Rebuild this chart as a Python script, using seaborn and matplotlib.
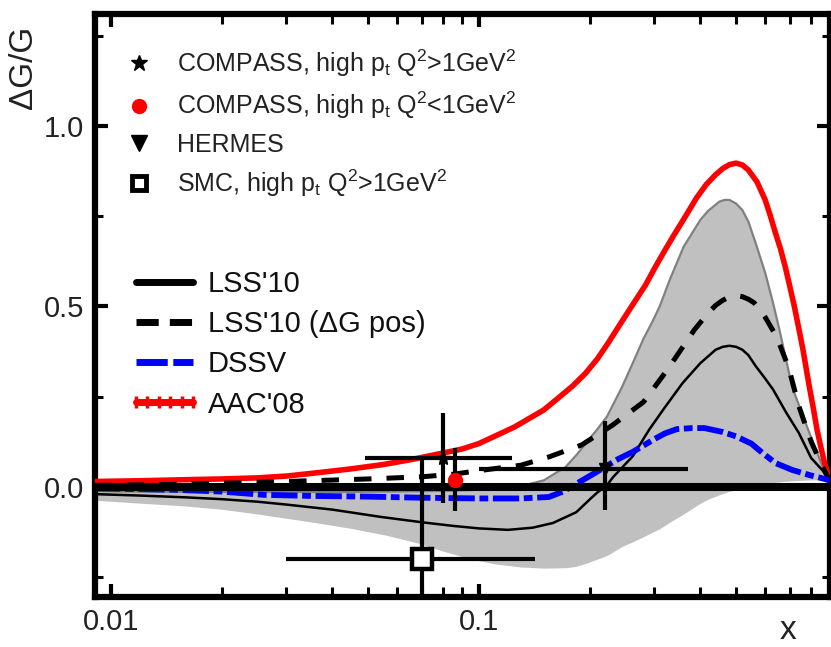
import matplotlib
matplotlib.use("Agg")
import numpy as np
import pandas as pd
import seaborn as sns
import matplotlib.pyplot as plt
from matplotlib.lines import Line2D
from matplotlib.ticker import MultipleLocator, NullFormatter

sns.set_style("ticks")
plt.rcParams['font.family'] = ['Liberation Sans', 'DejaVu Sans']
plt.rcParams['mathtext.fontset'] = 'custom'
plt.rcParams['mathtext.rm'] = 'Liberation Sans'
plt.rcParams['mathtext.it'] = 'Liberation Sans:italic'

# ---- curves ----
lss_x = [0.009, 0.012, 0.016, 0.02, 0.025, 0.03, 0.04, 0.054, 0.07, 0.085, 0.1, 0.12,
         0.14, 0.159, 0.184, 0.2, 0.209, 0.223, 0.232, 0.262, 0.29, 0.32, 0.358, 0.4,
         0.44, 0.46, 0.48, 0.5, 0.52, 0.54, 0.565, 0.6, 0.63, 0.685, 0.74, 0.8, 0.86, 0.9]
lss_y = [-0.020, -0.024, -0.029, -0.034, -0.041, -0.049, -0.063, -0.083, -0.098, -0.108,
         -0.115, -0.119, -0.113, -0.100, -0.070, -0.035, -0.017, 0.005, 0.028, 0.085,
         0.158, 0.220, 0.288, 0.343, 0.380, 0.388, 0.391, 0.388, 0.380, 0.365, 0.335,
         0.300, 0.270, 0.205, 0.150, 0.080, 0.045, 0.020]

lsspos_x = [0.009, 0.015, 0.02, 0.03, 0.05, 0.07, 0.085, 0.1, 0.13, 0.155, 0.19, 0.23,
            0.28, 0.325, 0.385, 0.42, 0.44, 0.46, 0.48, 0.5, 0.52, 0.54, 0.56, 0.58,
            0.6, 0.645, 0.695, 0.74, 0.8, 0.86, 0.9]
lsspos_y = [0.004, 0.007, 0.010, 0.015, 0.022, 0.028, 0.035, 0.045, 0.060, 0.083, 0.116,
            0.170, 0.235, 0.324, 0.435, 0.482, 0.503, 0.517, 0.526, 0.530, 0.527, 0.520,
            0.510, 0.492, 0.470, 0.415, 0.330, 0.225, 0.125, 0.055, 0.015]

dssv_x = [0.009, 0.015, 0.02, 0.026, 0.035, 0.05, 0.07, 0.1, 0.13, 0.155, 0.17, 0.185,
          0.2, 0.22, 0.24, 0.262, 0.297, 0.32, 0.345, 0.38, 0.41, 0.46, 0.5, 0.55, 0.59,
          0.64, 0.71, 0.79, 0.87, 0.9]
dssv_y = [-0.004, -0.008, -0.013, -0.022, -0.025, -0.027, -0.030, -0.032, -0.032, -0.028,
          -0.012, 0.010, 0.030, 0.055, 0.078, 0.097, 0.130, 0.148, 0.160, 0.163, 0.163,
          0.152, 0.140, 0.120, 0.094, 0.066, 0.047, 0.033, 0.022, 0.018]

aac_x = [0.009, 0.012, 0.016, 0.02, 0.025, 0.03, 0.037, 0.045, 0.055, 0.065, 0.075, 0.09,
         0.1, 0.125, 0.15, 0.166, 0.18, 0.195, 0.21, 0.225, 0.24, 0.26, 0.284, 0.3,
         0.32, 0.34, 0.367, 0.39, 0.415, 0.44, 0.46, 0.48, 0.5, 0.52, 0.54, 0.57, 0.6,
         0.62, 0.64, 0.66, 0.68, 0.7, 0.72, 0.74, 0.76, 0.79, 0.81, 0.83, 0.85, 0.87, 0.9]
aac_y = [0.015, 0.017, 0.020, 0.022, 0.025, 0.030, 0.040, 0.050, 0.062, 0.075, 0.088,
         0.105, 0.120, 0.166, 0.213, 0.250, 0.280, 0.315, 0.355, 0.400, 0.445, 0.500,
         0.560, 0.605, 0.655, 0.700, 0.755, 0.800, 0.838, 0.865, 0.882, 0.893, 0.897,
         0.892, 0.878, 0.845, 0.795, 0.750, 0.703, 0.660, 0.610, 0.555, 0.500, 0.440,
         0.380, 0.280, 0.220, 0.158, 0.110, 0.066, 0.020]

band_x = [0.009, 0.012, 0.016, 0.02, 0.025, 0.03, 0.036, 0.045, 0.056, 0.068, 0.08, 0.095,
          0.11, 0.13, 0.15, 0.172, 0.184, 0.195, 0.21, 0.223, 0.245, 0.262, 0.28, 0.297,
          0.31, 0.33, 0.36, 0.4, 0.42, 0.45, 0.465, 0.48, 0.5, 0.52, 0.54, 0.565, 0.6,
          0.63, 0.656, 0.71, 0.78, 0.86, 0.9]
band_hi = [-0.012, -0.013, -0.014, -0.014, -0.014, -0.014, -0.014, -0.014, -0.013, -0.012,
           -0.011, -0.009, -0.006, 0.002, 0.018, 0.055, 0.088, 0.120, 0.160, 0.195, 0.277,
           0.343, 0.410, 0.460, 0.500, 0.573, 0.665, 0.740, 0.765, 0.790, 0.795, 0.795,
           0.785, 0.767, 0.735, 0.676, 0.593, 0.510, 0.435, 0.277, 0.166, 0.055, 0.020]
band_lo = [-0.037, -0.045, -0.053, -0.062, -0.075, -0.087, -0.099, -0.115, -0.134, -0.155,
           -0.178, -0.200, -0.213, -0.222, -0.225, -0.224, -0.220, -0.212, -0.200, -0.190,
           -0.165, -0.152, -0.138, -0.125, -0.116, -0.098, -0.075, -0.045, -0.034, -0.022,
           -0.017, -0.012, -0.008, -0.004, 0.000, 0.004, 0.009, 0.012, 0.014, 0.017,
           0.019, 0.020, 0.020]

# ---- data points: x, y, x-errors (low, high), y-errors (low, high) ----
compass_hi = dict(x=0.08, y=0.08, xerr=(0.031, 0.043), yerr=(0.125, 0.125))
compass_lo = dict(x=0.086, y=0.02, yerr=(0.088, 0.088))
hermes = dict(x=0.22, y=0.049, xerr=(0.12, 0.15), yerr=(0.113, 0.134))
smc = dict(x=0.07, y=-0.20, xerr=(0.040, 0.072), yerr=(0.28, 0.28))

fig = plt.figure(figsize=(8.31, 6.47), dpi=100)
ax = fig.add_axes([0.1143, 0.0773, 0.8845, 0.901])
ax.set_xscale('log')

# uncertainty band of LSS'10
ax.fill_between(band_x, band_lo, band_hi, color='#c0c0c0', lw=0, zorder=1)
sns.lineplot(x=band_x, y=band_hi, ax=ax, color='#808080', lw=1.6, sort=False, zorder=2)

sns.lineplot(x=aac_x, y=aac_y, ax=ax, color='#ff0000', lw=4, sort=False, zorder=3)
sns.lineplot(x=lss_x, y=lss_y, ax=ax, color='#000000', lw=1.8, sort=False, zorder=3)
sns.lineplot(x=lsspos_x, y=lsspos_y, ax=ax, color='#000000', lw=3.6, sort=False,
             linestyle=(0, (3.5, 3)), zorder=3)
sns.lineplot(x=dssv_x, y=dssv_y, ax=ax, color='#0000ff', lw=4.2, sort=False,
             linestyle=(0, (4.5, 0.8, 1.5, 0.8)), zorder=3)

ax.axhline(0, color='black', lw=5.8, zorder=4)

err_kw = dict(color='black', ecolor='black', elinewidth=3, capsize=0, zorder=6)
ax.errorbar(compass_hi['x'], compass_hi['y'],
            xerr=[[compass_hi['xerr'][0]], [compass_hi['xerr'][1]]],
            yerr=[[compass_hi['yerr'][0]], [compass_hi['yerr'][1]]],
            fmt='*', ms=11, **err_kw)
ax.errorbar(hermes['x'], hermes['y'],
            xerr=[[hermes['xerr'][0]], [hermes['xerr'][1]]],
            yerr=[[hermes['yerr'][0]], [hermes['yerr'][1]]],
            fmt='v', ms=9, **err_kw)
ax.errorbar(smc['x'], smc['y'],
            xerr=[[smc['xerr'][0]], [smc['xerr'][1]]],
            yerr=[[smc['yerr'][0]], [smc['yerr'][1]]],
            fmt='s', ms=15, mfc='white', mec='black', mew=3.2, **err_kw)
ax.errorbar(compass_lo['x'], compass_lo['y'],
            yerr=[[compass_lo['yerr'][0]], [compass_lo['yerr'][1]]],
            fmt='none', **err_kw)
ax.plot([compass_lo['x']], [compass_lo['y']], 'o', color='#ff0000', ms=11, mew=0, zorder=7)

# axes
ax.set_xlim(0.00905, 0.9)
ax.set_ylim(-0.305, 1.31)
ax.set_xticks([0.01, 0.1], labels=['0.01', '0.1'])
ax.xaxis.set_minor_formatter(NullFormatter())
ax.set_yticks([0.0, 0.5, 1.0], labels=['0.0', '0.5', '1.0'])
ax.yaxis.set_minor_locator(MultipleLocator(0.25))
ax.tick_params(which='both', direction='in', top=True, right=True, colors='black',
               labelcolor='#222222')
ax.tick_params(which='major', length=9.5, width=3, labelsize=21, pad=8)
ax.tick_params(which='minor', length=7, width=2.2)
ax.yaxis.set_tick_params(which='minor', length=6)
for s in ax.spines.values():
    s.set_linewidth(4.5)
    s.set_color('black')

ax.set_xlabel('x', fontsize=24, color='#222222')
ax.xaxis.set_label_coords(0.943, -0.058)
ax.xaxis.label.set_va('center')
ax.set_ylabel('\u0394G/G', fontsize=24, color='#222222')
ax.yaxis.set_label_coords(-0.097, 0.909)
ax.yaxis.label.set_va('center')

# legends
data_handles = [
    Line2D([], [], ls='none', marker='*', color='black', ms=12),
    Line2D([], [], ls='none', marker='o', color='#ff0000', ms=11, mew=0),
    Line2D([], [], ls='none', marker='v', color='black', ms=11),
    Line2D([], [], ls='none', marker='s', mfc='white', mec='black', mew=3.5, ms=10),
]
data_labels = [
    'COMPASS, high p$_{\\mathrm{t}}$ Q$^{2}$>1GeV$^{2}$',
    'COMPASS, high p$_{\\mathrm{t}}$ Q$^{2}$<1GeV$^{2}$',
    'HERMES',
    'SMC, high p$_{\\mathrm{t}}$ Q$^{2}$>1GeV$^{2}$',
]
leg1 = ax.legend(data_handles, data_labels, loc='upper left',
                 bbox_to_anchor=(0.043, 0.943), frameon=False, fontsize=18,
                 handlelength=1.0, handletextpad=1.0, labelspacing=0.45,
                 borderpad=0, borderaxespad=0, labelcolor='#222222')
ax.add_artist(leg1)

line_handles = [
    Line2D([], [], color='black', lw=5),
    Line2D([], [], color='black', lw=5, ls=(0, (3.2, 1.6))),
    Line2D([], [], color='#0000ff', lw=5, ls=(0, (4.5, 0.8))),
    Line2D([], [], color='#ff0000', lw=5, marker='|', ms=9, mew=2.5),
]
line_labels = ["LSS'10", "LSS'10 (\u0394G pos)", 'DSSV', "AAC'08"]
ax.legend(line_handles, line_labels, loc='upper left', bbox_to_anchor=(0.0435, 0.561),
          frameon=False, fontsize=21, handlelength=2.57, handletextpad=0.2,
          labelspacing=0.42, borderpad=0, borderaxespad=0, numpoints=6,
          labelcolor='#111111')

fig.savefig('out.png', dpi=100)
